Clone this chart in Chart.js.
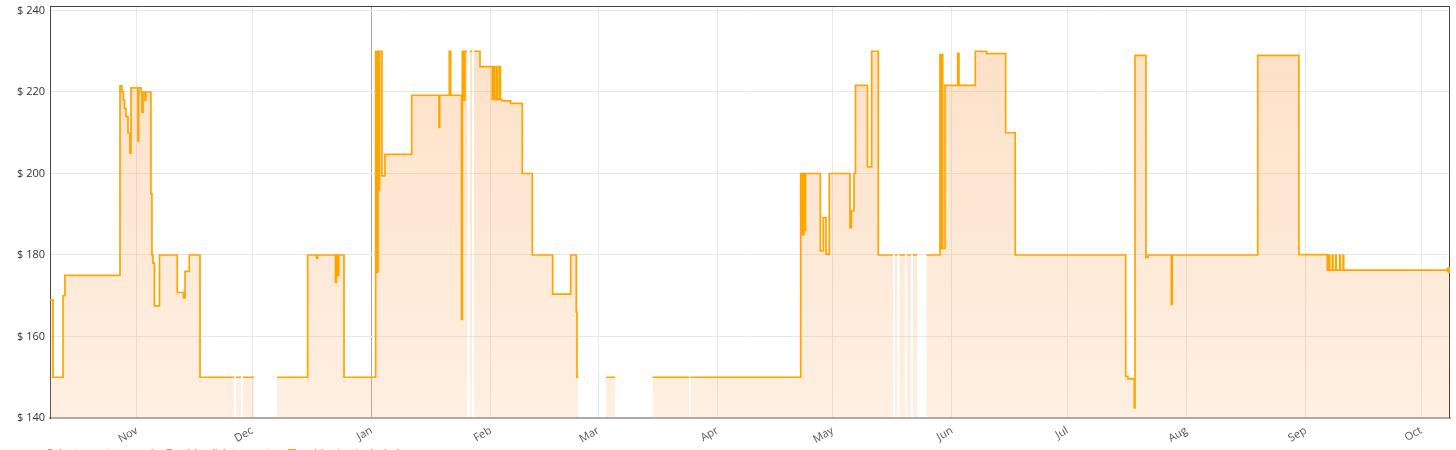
<!DOCTYPE html>
<html>
<head>
    <title>Price history</title>
    <style>
        body { margin: 0; overflow: hidden; background: #fff; }
        #wrap { position: relative; width: 1456px; height: 450px; }
        #note { position: absolute; left: 47px; top: 445px; font: 11px 'Open Sans', sans-serif; color: #777; white-space: nowrap; }
        #note span { display: inline-block; width: 8px; height: 8px; background: #ffa500; margin: 0 4px 0 14px; }
    </style>
</head>
<body>
<div id="wrap">
    <canvas id="priceChart" width="1456" height="450"></canvas>
    <div id="note">Select area to zoom in. Double-click to reset.<span></span>= shipping included</div>
</div>

<script src="https://cdn.jsdelivr.net/npm/chart.js"></script>
<script>
    // price changes: each price holds until the next date, null = no data
    const dates = [
        '2022-10-09 09:00', '2022-10-10 04:00', '2022-10-12 18:00', '2022-10-13 06:00', '2022-10-27 14:00',
        '2022-10-28 02:00', '2022-10-28 10:30', '2022-10-28 18:00', '2022-10-29 03:00', '2022-10-29 16:00',
        '2022-10-30 04:00', '2022-10-30 10:30', '2022-11-01 06:00', '2022-11-01 10:30', '2022-11-02 01:00',
        '2022-11-02 07:00', '2022-11-02 13:30', '2022-11-03 02:00', '2022-11-03 08:00', '2022-11-04 15:00',
        '2022-11-04 21:30', '2022-11-05 04:00', '2022-11-05 13:00', '2022-11-06 20:30', '2022-11-11 11:30',
        '2022-11-13 02:30', '2022-11-13 12:00', '2022-11-14 14:30', '2022-11-17 09:30', '2022-11-26 05:30',
        '2022-11-26 18:00', '2022-11-28 01:00', '2022-11-28 13:30', '2022-12-01 10:30', '2022-12-07 10:00',
        '2022-12-15 09:30', '2022-12-17 16:30', '2022-12-17 23:00', '2022-12-22 15:00', '2022-12-22 21:30',
        '2022-12-23 05:30', '2022-12-23 12:00', '2022-12-24 20:30', '2023-01-02 02:00', '2023-01-02 12:00',
        '2023-01-02 16:30', '2023-01-02 23:00', '2023-01-03 02:00', '2023-01-03 17:30', '2023-01-04 12:00',
        '2023-01-11 11:00', '2023-01-18 13:30', '2023-01-18 18:00', '2023-01-21 06:00', '2023-01-21 14:30',
        '2023-01-24 10:00', '2023-01-24 15:00', '2023-01-25 01:30', '2023-01-25 07:30', '2023-01-25 20:00',
        '2023-01-26 15:00', '2023-01-27 03:30', '2023-01-27 16:00', '2023-01-29 05:30', '2023-02-01 10:00',
        '2023-02-01 17:30', '2023-02-02 00:00', '2023-02-02 12:00', '2023-02-02 18:30', '2023-02-03 07:00',
        '2023-02-03 13:00', '2023-02-03 21:00', '2023-02-06 05:00', '2023-02-09 05:30', '2023-02-11 20:00',
        '2023-02-17 03:00', '2023-02-21 19:30', '2023-02-23 06:30', '2023-02-23 11:00', '2023-02-23 20:00',
        '2023-03-03 00:00', '2023-03-05 08:00', '2023-03-15 02:00', '2023-03-24 17:00', '2023-03-24 23:30',
        '2023-04-22 15:30', '2023-04-22 20:30', '2023-04-23 01:30', '2023-04-23 06:00', '2023-04-23 12:00',
        '2023-04-23 16:30', '2023-04-23 21:30', '2023-04-27 18:00', '2023-04-28 12:30', '2023-04-29 05:30',
        '2023-04-30 02:00', '2023-05-05 11:00', '2023-05-05 20:30', '2023-05-06 12:00', '2023-05-06 21:30',
        '2023-05-10 00:30', '2023-05-11 02:30', '2023-05-12 20:00', '2023-05-16 15:30', '2023-05-17 04:00',
        '2023-05-17 19:30', '2023-05-18 08:00', '2023-05-19 18:30', '2023-05-20 07:00', '2023-05-21 08:00',
        '2023-05-21 20:30', '2023-05-22 21:30', '2023-05-25 08:30', '2023-05-28 21:00', '2023-05-29 01:30',
        '2023-05-29 09:30', '2023-05-29 14:00', '2023-05-30 04:30', '2023-06-02 11:30', '2023-06-02 19:30',
        '2023-06-07 01:30', '2023-06-10 00:30', '2023-06-14 23:00', '2023-06-17 11:00', '2023-07-16 04:30',
        '2023-07-16 18:30', '2023-07-18 10:00', '2023-07-18 14:30', '2023-07-21 11:00', '2023-07-21 23:30',
        '2023-07-28 01:00', '2023-07-28 07:00', '2023-08-19 12:30', '2023-08-30 06:00', '2023-09-06 15:00',
        '2023-09-07 01:30', '2023-09-07 06:00', '2023-09-07 22:30', '2023-09-08 02:30', '2023-09-08 19:30',
        '2023-09-08 23:00', '2023-09-09 20:30', '2023-09-10 00:15', '2023-09-10 17:30', '2023-09-10 21:30',
        '2023-10-08 09:00'
    ];
    const prices = [
        169, 150, 170, 175, 221.5,
        220, 218, 216, 214, 210,
        205, 221, 208, 221, 220,
        215, 220, 218, 220, 195,
        180, 178, 167.5, 180, 170.8,
        169.5, 176, 180, 150, null,
        150, null, 150, null, 150,
        180, 179.2, 180, 173.3, 180,
        175, 180, 150, 230, 175.7,
        230, 196, 230, 199.4, 204.7,
        219.2, 211.3, 219.2, 230, 219.2,
        164.2, 230, 218, 230, null,
        230, null, 230, 226.2, 218.2,
        226.2, 218.2, 226.2, 218.2, 226.2,
        218.2, 217.8, 217.2, 200, 180,
        170.4, 180, 166, 150, null,
        150, null, 150, null, 150,
        200, 185, 200, 185, 200,
        186, 200, 181, 189.2, 180.2,
        200, 186.7, 190.8, 200, 221.6,
        201.6, 230, 180, null, 180,
        null, 180, null, 180, null,
        180, null, 180, 229.2, 181.6,
        229.2, 181.6, 221.6, 229.5, 221.6,
        230, 229.4, 210, 180, 150.2,
        149.6, 142.5, 229, 179.4, 180,
        167.9, 180, 229, 180.1, 176.3,
        180, 176.3, 180, 176.3, 180,
        176.3, 180, 176.3, 180, 176.3,
        176.3
    ];
    const monthTicks = ['2022-11-01', '2022-12-01', '2023-01-01', '2023-02-01', '2023-03-01', '2023-04-01',
        '2023-05-01', '2023-06-01', '2023-07-01', '2023-08-01', '2023-09-01', '2023-10-01'];
    const monthLabels = ['Nov', 'Dec', 'Jan', 'Feb', 'Mar', 'Apr', 'May', 'Jun', 'Jul', 'Aug', 'Sep', 'Oct'];
    const yTicks = [140, 160, 180, 200, 220, 240];
    const xStart = '2022-10-09 09:00';
    const xEnd = '2023-10-08 13:00';

    function toTime(s) {
        const iso = s.length === 10 ? s + 'T00:00:00Z' : s.replace(' ', 'T') + ':00Z';
        return Date.parse(iso);
    }

    // stepped line: hold the last price up to the start of a gap
    const points = [];
    let last = null;
    dates.forEach((d, i) => {
        const x = toTime(d);
        if (prices[i] === null) {
            points.push({x: x, y: last});
            points.push({x: x, y: null});
        } else {
            points.push({x: x, y: prices[i]});
            last = prices[i];
        }
    });

    const newYear = toTime('2023-01-01');

    const frame = {
        id: 'frame',
        beforeDatasetsDraw(chart) {
            const {ctx, chartArea: a} = chart;
            ctx.save();
            ctx.strokeStyle = '#444';
            ctx.lineWidth = 1;
            ctx.beginPath();
            ctx.moveTo(a.left, a.top + 0.5);
            ctx.lineTo(a.right - 0.5, a.top + 0.5);
            ctx.lineTo(a.right - 0.5, a.bottom);
            ctx.stroke();
            ctx.restore();
        }
    };

    new Chart(document.getElementById('priceChart'), {
        type: 'line',
        data: {
            datasets: [{
                label: 'Price',
                data: points,
                stepped: true,
                spanGaps: false,
                borderColor: '#ffa500',
                borderWidth: 1.7,
                fill: 'start',
                backgroundColor: ctx => {
                    const a = ctx.chart.chartArea;
                    if (!a) return 'rgba(250,160,80,0.25)';
                    const g = ctx.chart.ctx.createLinearGradient(0, a.top, 0, a.bottom);
                    g.addColorStop(0, 'rgba(250,160,80,0.33)');
                    g.addColorStop(1, 'rgba(250,160,80,0.16)');
                    return g;
                },
                pointRadius: ctx => ctx.dataIndex === points.length - 1 ? 3 : 0,
                pointBackgroundColor: '#ffa500',
                pointBorderWidth: 0
            }]
        },
        options: {
            responsive: false,
            animation: false,
            layout: {padding: {top: 6, right: 6, left: 0, bottom: 0}},
            plugins: {legend: {display: false}, tooltip: {enabled: false}},
            scales: {
                x: {
                    type: 'linear',
                    min: toTime(xStart),
                    max: toTime(xEnd),
                    afterBuildTicks: scale => {
                        scale.ticks = monthTicks.map(m => ({value: toTime(m)}));
                    },
                    afterFit: scale => { scale.height = 32; scale.paddingRight = 0; },
                    ticks: {
                        autoSkip: false,
                        minRotation: 30,
                        maxRotation: 30,
                        padding: 6,
                        color: '#555',
                        font: {family: "'Open Sans', sans-serif", size: 11},
                        callback: (v, i) => monthLabels[i]
                    },
                    grid: {
                        drawTicks: false,
                        color: ctx => ctx.tick && ctx.tick.value === newYear ? '#aaa' : '#e8e8e8'
                    },
                    border: {color: '#aaa', width: 2}
                },
                y: {
                    min: 140,
                    max: 241.1,
                    afterBuildTicks: scale => {
                        scale.ticks = yTicks.map(v => ({value: v}));
                    },
                    afterFit: scale => { scale.width = 50; scale.paddingTop = 0; scale.paddingBottom = 0; },
                    ticks: {
                        padding: 5,
                        color: '#333',
                        font: {family: "'Open Sans', sans-serif", size: 11},
                        callback: v => '$ ' + v
                    },
                    grid: {drawTicks: false, color: '#e8e8e8'},
                    border: {color: '#444', width: 1}
                }
            }
        },
        plugins: [frame]
    });
</script>
</body>
</html>
